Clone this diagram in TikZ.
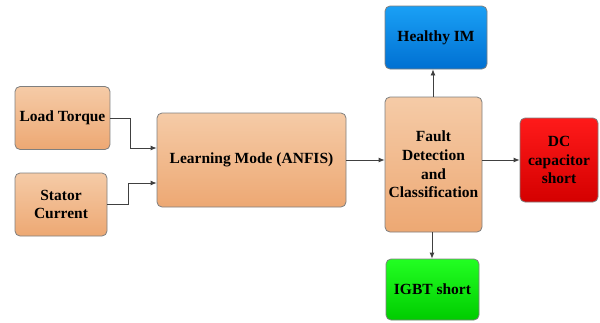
\documentclass[tikz,border=0pt]{standalone}
\usepackage{fontspec}
\setmainfont{Liberation Serif}
\usetikzlibrary{arrows.meta}
\definecolor{orTop}{HTML}{F5CBA7}
\definecolor{orBot}{HTML}{EDA873}
\definecolor{blTop}{HTML}{1AA0F5}
\definecolor{blBot}{HTML}{0070D2}
\definecolor{rdTop}{HTML}{FF1A1A}
\definecolor{rdBot}{HTML}{D40000}
\definecolor{grTop}{HTML}{22FF22}
\definecolor{grBot}{HTML}{00CC00}
\definecolor{edgeg}{HTML}{7F7F7F}
\definecolor{lineg}{HTML}{404040}
\tikzset{
  blk/.style={draw=edgeg, line width=0.8pt, rounded corners=5pt, align=center,
    inner sep=0pt, font=\fontsize{15.5}{18.6}\selectfont\bfseries, text=black},
  orblk/.style={blk, top color=orTop, bottom color=orBot},
  blblk/.style={blk, top color=blTop, bottom color=blBot},
  rdblk/.style={blk, top color=rdTop, bottom color=rdBot},
  grblk/.style={blk, top color=grTop, bottom color=grBot},
  conn/.style={draw=lineg, line width=0.8pt, -{Latex[length=6pt,width=5pt]}}
}
\begin{document}
\begin{tikzpicture}[x=1pt,y=-1pt]
\useasboundingbox (0,0) rectangle (600,322);
\node[orblk, minimum width=95pt, minimum height=63pt] (lt) at (62.5,118) {Load Torque};
\node[orblk, minimum width=92pt, minimum height=63pt] (sc) at (61,204.5) {Stator\\Current};
\node[orblk, minimum width=189pt, minimum height=94pt] (lm) at (251.5,160) {Learning Mode (ANFIS)};
\node[orblk, minimum width=97pt, minimum height=135pt] (fd) at (433.5,164.5) {Fault\\Detection\\and\\Classification};
\node[blblk, minimum width=102pt, minimum height=63pt] (hi) at (436,37.5) {Healthy IM};
\node[rdblk, minimum width=78pt, minimum height=84pt] (dc) at (559,160) {DC\\capacitor\\short};
\node[grblk, minimum width=93pt, minimum height=61pt] (ig) at (432.5,289.5) {IGBT short};
\coordinate (ltm) at (130,118);
\coordinate (scm) at (128,204);
\draw[conn] (lt.east |- ltm) -- (ltm) |- (lm.west |- 0,148);
\draw[conn] (sc.east |- scm) -- (scm) |- (lm.west |- 0,183);
\draw[conn] (lm.east |- 0,160) -- (fd.west |- 0,160);
\draw[conn] (fd.north -| 433,0) -- (hi.south -| 433,0);
\draw[conn] (fd.east |- 0,160) -- (dc.west |- 0,160);
\draw[conn] (fd.south -| 432,0) -- (ig.north -| 432,0);
\end{tikzpicture}
\end{document}
